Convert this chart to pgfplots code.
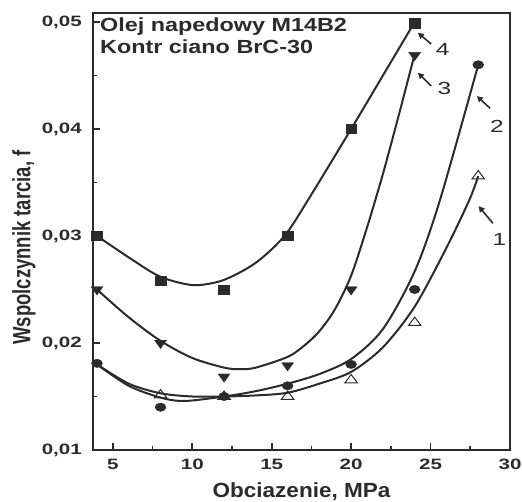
\documentclass[border=0pt]{standalone}
\usepackage{pgfplots}
\pgfplotsset{compat=1.18}
\usepackage{fontspec}
\setmainfont{Liberation Sans}
\newfontfamily\tickfont[FakeStretch=1.37]{Liberation Sans}
\newfontfamily\titlefont[FakeStretch=1.23]{Liberation Sans}
\newfontfamily\labfont[FakeStretch=1.1]{Liberation Sans}
\newfontfamily\numfont[FakeStretch=1.4]{Liberation Sans}
\usetikzlibrary{arrows.meta}
\definecolor{ink}{HTML}{2B2B2B}

\begin{document}
\begin{tikzpicture}
\useasboundingbox (0,0) rectangle (522pt,501pt);
\begin{axis}[
    at={(93pt,51pt)}, anchor=south west,
    width=417pt, height=437pt, scale only axis,
    xmin=3.75, xmax=30, ymin=0.01, ymax=0.05084,
    clip=false,
    axis line style={line width=1.8pt, ink},
    xtick={5,10,15,20,25,30}, xticklabels={5,10,15,20,25,30},
    ytick={0.01,0.02,0.03,0.04,0.05},
    yticklabels={{0,01},{0,02},{0,03},{0,04},{0,05}},
    scaled y ticks=false,
    minor tick num=1,
    tick align=inside, xtick pos=left, ytick pos=left,
    major tick length=7pt, minor tick length=4pt,
    tick style={line width=1.6pt, ink},
    xticklabel style={font=\tickfont\bfseries\fontsize{15}{15}\selectfont, anchor=north, inner sep=0pt, yshift=-9pt, text=ink},
    yticklabel style={font=\tickfont\bfseries\fontsize{15}{15}\selectfont, anchor=east, inner sep=0pt, xshift=-11pt, text=ink},
    xlabel={Obciazenie, MPa},
    xlabel style={font=\labfont\bfseries\fontsize{20.5}{20.5}\selectfont, at={(axis description cs:0.5,-0.1085)}, anchor=base, inner sep=0pt, text=ink},
    ylabel={\scalebox{1}[1.35]{Wspolczynnik tarcia, f}},
    ylabel style={font=\bfseries\fontsize{18.5}{18.5}\selectfont, at={(axis description cs:-0.1655,0.4634)}, anchor=center, inner sep=0pt, text=ink},
]
% fitted curves
\addplot[ink, line width=2pt, smooth, no marks] coordinates {
    (4,0.0300) (6,0.0280) (7.7,0.0264) (9,0.0257) (10.3,0.0254) (12,0.0259)
    (14,0.0275) (15.8,0.0300) (17.3,0.0334) (20,0.0400) (22,0.0450) (24,0.0500)
};
\addplot[ink, line width=2pt, smooth, no marks] coordinates {
    (4,0.0250) (6,0.0224) (8,0.0202) (10,0.0186) (12,0.0177) (13,0.01755)
    (14,0.0177) (16,0.0187) (17,0.0197) (18,0.0211) (19,0.0232) (20,0.0263)
    (21,0.0308) (22,0.0358) (23,0.0413) (24,0.0470)
};
\addplot[ink, line width=2pt, smooth, no marks] coordinates {
    (4,0.0180) (6,0.0160) (8,0.0149) (9.5,0.01458) (12,0.0150) (14,0.0155)
    (16,0.0162) (18,0.0171) (20,0.0185) (22,0.0213) (24,0.0267) (25.6,0.0334) (28,0.0460)
};
\addplot[ink, line width=2pt, smooth, no marks] coordinates {
    (4,0.0180) (6,0.0162) (8,0.0153) (10,0.0150) (12,0.0150) (14,0.0151)
    (16,0.01535) (18,0.0162) (20,0.0173) (22,0.0196) (24,0.0234) (26,0.0289) (27.45,0.0334) (28,0.0356)
};
% measured points
\addplot[only marks, mark=square*, mark size=4.7pt, mark options={xscale=1.15, fill=ink, draw=ink}] coordinates {
    (4,0.0300) (8,0.0258) (12,0.0250) (16,0.0300) (20,0.0400) (24,0.0499)
};
\addplot[only marks, mark=triangle*, mark size=5.5pt, mark options={rotate=180, xscale=1.25, fill=ink, draw=ink}] coordinates {
    (4,0.0250) (8,0.0200) (12,0.01685) (16,0.0179) (20,0.0250) (24,0.0469)
};
\addplot[only marks, mark=triangle, mark size=5.5pt, mark options={xscale=1.3, fill=white, draw=ink, line width=1pt}] coordinates {
    (8,0.01514) (12,0.0150) (16,0.0150) (20,0.01654) (24,0.0219) (28,0.0356)
};
\addplot[only marks, mark=*, mark size=4.2pt, mark options={xscale=1.3, fill=ink, draw=ink}] coordinates {
    (4,0.0181) (8,0.0140) (12,0.0150) (16,0.0160) (20,0.0180) (24,0.0250) (28,0.0460)
};
% legend text
\node[anchor=base west, inner sep=0pt, font=\titlefont\bfseries\fontsize{19}{19}\selectfont, text=ink] at (axis description cs:0.0168,0.9588) {Olej napedowy M14B2};
\node[anchor=base west, inner sep=0pt, font=\titlefont\bfseries\fontsize{19}{19}\selectfont, text=ink] at (axis description cs:0.0168,0.9062) {Kontr ciano BrC-30};
% curve labels
\draw[ink, line width=1.6pt, -{Triangle[length=6pt,width=6pt]}] (axis cs:25.04,0.04794) -- (axis cs:24.2,0.0490);
\draw[ink, line width=1.6pt, -{Triangle[length=6pt,width=6pt]}] (axis cs:25.04,0.04402) -- (axis cs:24.2,0.04526);
\draw[ink, line width=1.6pt, -{Triangle[length=6pt,width=6pt]}] (axis cs:28.75,0.04193) -- (axis cs:27.91,0.04308);
\draw[ink, line width=1.6pt, -{Triangle[length=6pt,width=6pt]}] (axis cs:28.92,0.03119) -- (axis cs:28.02,0.0328);
\node[font=\numfont\fontsize{17.5}{17.5}\selectfont, text=ink] at (axis cs:25.77,0.04745) {4};
\node[font=\numfont\fontsize{17.5}{17.5}\selectfont, text=ink] at (axis cs:25.88,0.0438) {3};
\node[font=\numfont\fontsize{17.5}{17.5}\selectfont, text=ink] at (axis cs:29.17,0.04022) {2};
\node[font=\numfont\fontsize{17.5}{17.5}\selectfont, text=ink] at (axis cs:29.34,0.02963) {1};
\end{axis}
\end{tikzpicture}
\end{document}
